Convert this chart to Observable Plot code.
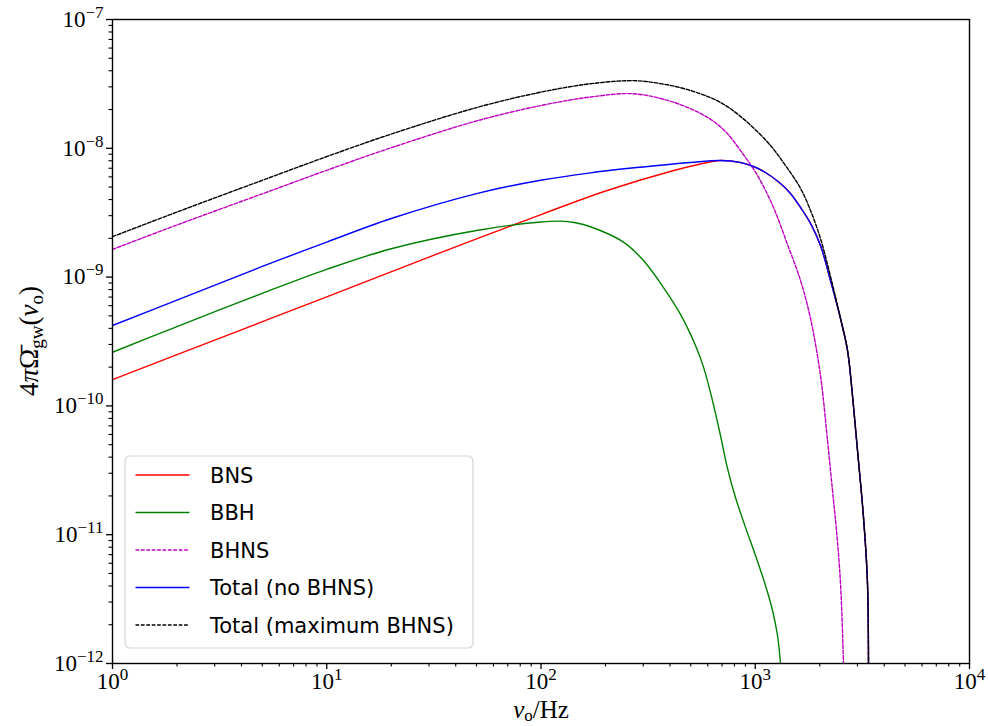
<!DOCTYPE html>
<html><head><meta charset="utf-8">
<script src="https://cdn.jsdelivr.net/npm/d3@7"></script>
<script src="https://cdn.jsdelivr.net/npm/@observablehq/plot@0.6"></script>
<style>html,body{margin:0;padding:0;background:#fff;}</style>
</head><body><div id="chart"></div>
<script>
// ---- data ----
const seriesNames = ["BNS", "BBH", "BHNS", "Total (no BHNS)", "Total (maximum BHNS)"];
const seriesColors = ["#ff0000", "#008000", "#bf00bf", "#0000ff", "#000000"];
const seriesDashed = [false, false, true, false, true];

const bnsNu = [1,3,10,30,100,203.7,416.8,555,688,853,981,1116,1312,1460,1627,1811,2016,2245,2500,2696,2844,3001,3201,3341,3378];
const bnsOmega = [1.60e-10,3.24e-10,7.03e-10,1.43e-9,3.06e-9,4.70e-9,6.72e-9,7.55e-9,8.04e-9,7.76e-9,7.22e-9,6.49e-9,5.33e-9,4.46e-9,3.47e-9,2.61e-9,1.76e-9,9.41e-10,4.77e-10,2.69e-10,1.20e-10,4.51e-11,1.36e-11,4.18e-12,5.2e-13];

const bbhNu = [1,2,5,10,20,50,100,123.3,144.9,170.2,242.7,300.8,373.1,447.9,526.1,573.5,631.6,688.3,742.2,808.6,900.5,1002.8,1116.5,1203.8,1270.2,1312,1340.6];
const bbhOmega = [2.61e-10,4.13e-10,7.48e-10,1.148e-9,1.66e-9,2.30e-9,2.68e-9,2.72e-9,2.64e-9,2.46e-9,1.87e-9,1.345e-9,8.30e-10,5.13e-10,2.94e-10,2.00e-10,1.10e-10,5.89e-11,3.27e-11,1.945e-11,1.14e-11,6.89e-12,4.03e-12,2.58e-12,1.65e-12,1.0e-12,6.2e-13];

const bhnsNu = [1,2,5,10,20,50,100,170,270,415,598,726.3,853,1024.5,1216.7,1414.5,1627,1811,2016,2174,2294,2394,2500,2582,2610];
const bhnsOmega = [1.64e-9,2.54e-9,4.43e-9,6.75e-9,1.01e-8,1.63e-8,2.15e-8,2.5e-8,2.65e-8,2.28e-8,1.74e-8,1.349e-8,9.61e-9,6.15e-9,3.47e-9,1.79e-9,9.41e-10,4.77e-10,1.72e-10,5.39e-11,2.20e-11,1.08e-11,4.18e-12,1.0e-12,5.2e-13];

const totalNu = [1,2,5,10,20,50,99.5,170.2,291.3,498.6,688.3,853,981,1116,1312,1460,1627,1811,2016,2245,2500,2696,2844,3001,3201,3341,3378];
const totalOmega = [4.21e-10,6.62e-10,1.21e-9,1.87e-9,2.85e-9,4.45e-9,5.65e-9,6.45e-9,7.13e-9,7.76e-9,8.04e-9,7.76e-9,7.22e-9,6.49e-9,5.33e-9,4.46e-9,3.47e-9,2.61e-9,1.76e-9,9.41e-10,4.77e-10,2.69e-10,1.20e-10,4.51e-11,1.36e-11,4.18e-12,5.2e-13];

const maxNu = [1,2,5,10,20,50,100,170,270,361.3,498.6,688.3,900.5,1178,1384,1627,1811,2016,2245,2500,2696,2844,3001,3201,3341,3378];
const maxOmega = [2.06e-9,3.2e-9,5.64e-9,8.62e-9,1.29e-8,2.07e-8,2.73e-8,3.17e-8,3.35e-8,3.18e-8,2.81e-8,2.27e-8,1.64e-8,1.051e-8,7.35e-9,4.88e-9,3.29e-9,1.99e-9,1.01e-9,4.77e-10,2.69e-10,1.20e-10,4.51e-11,1.36e-11,4.18e-12,5.2e-13];

const xMajorTicks = [1, 10, 100, 1000, 10000];
const yMajorTicks = [1e-12, 1e-11, 1e-10, 1e-9, 1e-8, 1e-7];
const minorMultipliers = [2,3,4,5,6,7,8,9];

// ---- build tables ----
const nuArrays = [bnsNu, bbhNu, bhnsNu, totalNu, maxNu];
const omegaArrays = [bnsOmega, bbhOmega, bhnsOmega, totalOmega, maxOmega];
const tables = seriesNames.map((name, i) => nuArrays[i].map((nu, j) => ({series: name, nu, omega: omegaArrays[i][j]})));

const xMinorTicks = xMajorTicks.slice(0, -1).flatMap(d => minorMultipliers.map(m => d * m));
const yMinorTicks = yMajorTicks.slice(0, -1).flatMap(d => minorMultipliers.map(m => d * m));

const expFormat = d => "10^" + String(Math.round(Math.log10(d))).replace("-", "\u2212");

const chart = Plot.plot({
  width: 988,
  height: 726,
  marginLeft: 112,
  marginRight: 19,
  marginTop: 19,
  marginBottom: 63,
  x: {type: "log", domain: [1, 1e4], label: null},
  y: {type: "log", domain: [1e-12, 1e-7], label: null},
  style: {fontFamily: "'Liberation Serif', serif", fontSize: "23px", color: "#000", background: "#fff"},
  marks: [
    ...tables.map((t, i) => Plot.line(t, {
      x: "nu", y: "omega",
      stroke: seriesColors[i],
      strokeWidth: 1.4,
      strokeDasharray: seriesDashed[i] ? "3.7,1.7" : null,
      curve: "catmull-rom",
      clip: true
    })),
    Plot.axisX(xMinorTicks, {tickSize: 3.5, tickFormat: () => "", label: null, strokeWidth: 1.1}),
    Plot.axisY(yMinorTicks, {tickSize: 3.5, tickFormat: () => "", label: null, strokeWidth: 1.1}),
    Plot.axisX(xMajorTicks, {tickSize: 6, tickPadding: 3, tickFormat: expFormat, label: null, strokeWidth: 1.3, fontSize: 23}),
    Plot.axisY(yMajorTicks, {tickSize: 6, tickPadding: 3, tickFormat: expFormat, label: null, strokeWidth: 1.3, fontSize: 23}),
    Plot.frame({stroke: "#000", strokeWidth: 1.4})
  ]
});

document.getElementById("chart").appendChild(chart);

// ---- superscript exponents in tick labels ----
const NS = "http://www.w3.org/2000/svg";
d3.select(chart).selectAll("text").each(function () {
  const m = this.textContent.match(/^10\^(.+)$/);
  if (!m) return;
  this.textContent = "";
  const base = document.createElementNS(NS, "tspan");
  base.textContent = "10";
  this.appendChild(base);
  const ex = document.createElementNS(NS, "tspan");
  ex.setAttribute("dy", "-9");
  ex.setAttribute("font-size", "17px");
  ex.textContent = m[1];
  this.appendChild(ex);
});

const svg = d3.select(chart);

// ---- axis labels ----
const xl = svg.append("text")
  .attr("x", 541).attr("y", 718)
  .attr("text-anchor", "middle")
  .attr("font-family", "'Liberation Serif', serif")
  .attr("font-size", 25);
xl.append("tspan").attr("font-style", "italic").text("ν");
xl.append("tspan").attr("font-size", 17).attr("dy", 3).text("o");
xl.append("tspan").attr("dy", -3).text("/Hz");

const yl = svg.append("text")
  .attr("transform", "translate(38,341) rotate(-90)")
  .attr("text-anchor", "middle")
  .attr("font-family", "'Liberation Serif', serif")
  .attr("font-size", 27);
yl.append("tspan").text("4");
yl.append("tspan").attr("font-style", "italic").text("π");
yl.append("tspan").text("Ω\u0304");
yl.append("tspan").attr("font-size", 19).attr("dy", 5).text("gw");
yl.append("tspan").attr("dy", -5).text("(");
yl.append("tspan").attr("font-style", "italic").text("ν");
yl.append("tspan").attr("font-size", 19).attr("dy", 5).text("o");
yl.append("tspan").attr("dy", -5).text(")");

// ---- legend ----
const lg = svg.append("g").attr("font-family", "'DejaVu Sans', sans-serif").attr("font-size", 21).attr("text-anchor", "start");
lg.append("rect").attr("x", 125).attr("y", 456).attr("width", 348).attr("height", 192)
  .attr("rx", 5).attr("fill", "#fff").attr("fill-opacity", 0.85).attr("stroke", "#d4d4d4").attr("stroke-width", 1.2);
seriesNames.forEach((name, i) => {
  const yy = 475 + i * 37.5;
  lg.append("line").attr("x1", 135.5).attr("x2", 189.5).attr("y1", yy).attr("y2", yy)
    .attr("stroke", seriesColors[i]).attr("stroke-width", 1.4)
    .attr("stroke-dasharray", seriesDashed[i] ? "3.7,1.7" : null);
  lg.append("text").attr("x", 210).attr("y", yy).attr("dy", "0.36em").attr("text-anchor", "start").attr("fill", "#000").text(name);
});
</script>
</body></html>
